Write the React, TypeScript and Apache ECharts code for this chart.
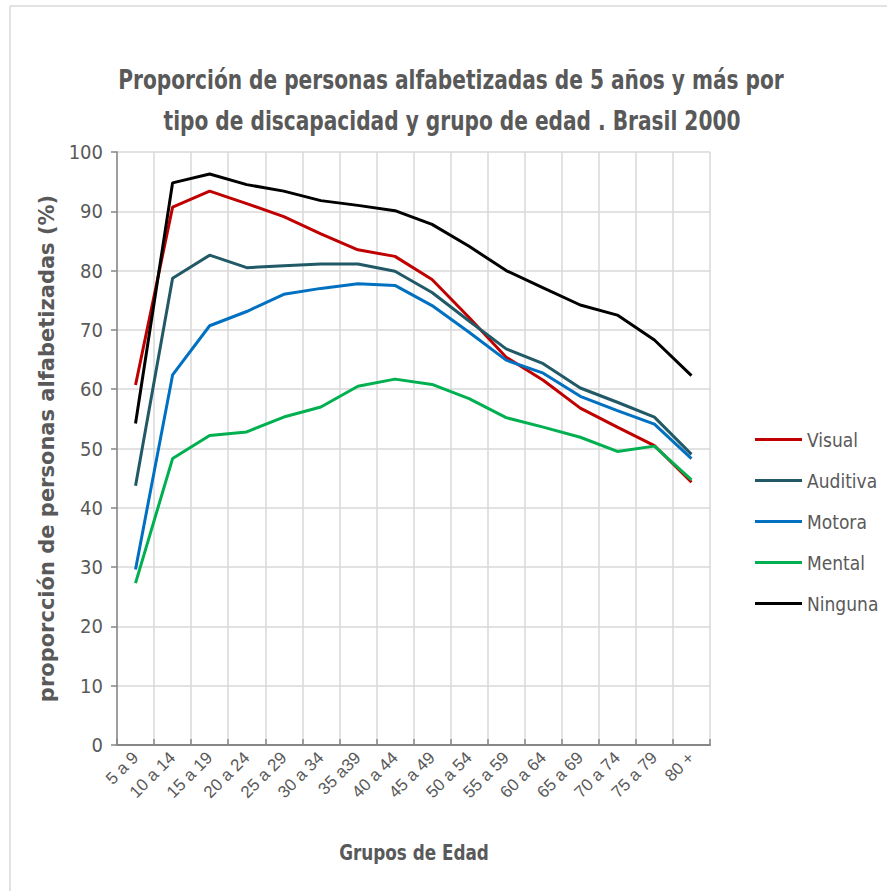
import React, { useEffect, useRef } from "react";
import * as echarts from "echarts";

const categories = ["5 a 9", "10 a 14", "15 a 19", "20 a 24", "25 a 29", "30 a 34", "35 a39", "40 a 44", "45 a 49", "50 a 54", "55 a 59", "60 a 64", "65 a 69", "70 a 74", "75 a 79", "80 +"];
const visual = [60.7, 90.7, 93.4, 91.3, 89.1, 86.2, 83.5, 82.4, 78.5, 72.1, 65.4, 61.5, 56.8, 53.6, 50.5, 44.3];
const auditiva = [43.7, 78.7, 82.6, 80.5, 80.8, 81.1, 81.1, 79.9, 76.3, 71.5, 66.8, 64.3, 60.2, 57.8, 55.3, 49.0];
const motora = [29.6, 62.4, 70.7, 73.1, 76.0, 77.0, 77.8, 77.5, 74.1, 69.6, 64.9, 62.7, 58.8, 56.4, 54.1, 48.3];
const mental = [27.3, 48.3, 52.2, 52.8, 55.3, 57.0, 60.5, 61.7, 60.8, 58.4, 55.2, 53.6, 51.9, 49.5, 50.4, 44.7];
const ninguna = [54.2, 94.8, 96.3, 94.5, 93.4, 91.8, 91.0, 90.1, 87.8, 84.1, 80.0, 77.1, 74.2, 72.5, 68.3, 62.3];
const seriesNames = ["Visual", "Auditiva", "Motora", "Mental", "Ninguna"];
const seriesColors = ["#C00000", "#215967", "#0070C0", "#00B050", "#000000"];
const titleLines = ["Proporción de personas alfabetizadas de 5 años y más por", "tipo de discapacidad y grupo de edad . Brasil 2000"];
const xAxisTitle = "Grupos de Edad";
const yAxisTitle = "proporcción de personas alfabetizadas (%)";

const NARROW = "'DejaVu Sans Condensed', sans-serif";
const GRAY = "#595959";

export default function App() {
  const ref = useRef<HTMLDivElement>(null);
  useEffect(() => {
    if (!ref.current) return;
    const chart = echarts.init(ref.current, undefined, { renderer: "svg" });
    const data = [visual, auditiva, motora, mental, ninguna];
    chart.setOption({
      animation: false,
      backgroundColor: "#ffffff",
      graphic: [
        { type: "line", shape: { x1: 10, y1: 6, x2: 887, y2: 6 }, style: { stroke: "#d9d9d9", lineWidth: 1.5 } },
        { type: "line", shape: { x1: 10, y1: 6, x2: 10, y2: 891 }, style: { stroke: "#d9d9d9", lineWidth: 1.5 } },
        {
          type: "text", x: 451, y: 80, scaleX: 0.83,
          style: { text: titleLines[0], align: "center", verticalAlign: "middle", fill: GRAY, font: `bold 27px ${NARROW}` },
        },
        {
          type: "text", x: 452, y: 121, scaleX: 0.83,
          style: { text: titleLines[1], align: "center", verticalAlign: "middle", fill: GRAY, font: `bold 27px ${NARROW}` },
        },
        {
          type: "text", x: 414, y: 852, scaleX: 0.85,
          style: { text: xAxisTitle, align: "center", verticalAlign: "middle", fill: GRAY, font: `bold 22px ${NARROW}` },
        },
      ],
      grid: { left: 117, right: 177, top: 152, bottom: 146, containLabel: false },
      legend: {
        orient: "vertical",
        left: 750,
        top: 425,
        itemWidth: 47,
        itemHeight: 3,
        itemGap: 22,
        icon: "rect",
        textStyle: { color: GRAY, fontSize: 19, fontFamily: NARROW, padding: [0, 0, 0, 0] },
        data: seriesNames,
      },
      xAxis: {
        type: "category",
        data: categories,
        boundaryGap: true,
        axisLine: { lineStyle: { color: "#868686", width: 2 } },
        axisTick: { show: true, inside: true, length: 6, lineStyle: { color: "#868686", width: 1.5 } },
        axisLabel: { rotate: 45, color: GRAY, fontSize: 17, fontFamily: "'Liberation Sans', Arial, sans-serif", margin: 10, interval: 0 },
        splitLine: { show: true, lineStyle: { color: "#d9d9d9", width: 1.5 } },
      },
      yAxis: {
        type: "value",
        min: 0,
        max: 100,
        interval: 10,
        name: yAxisTitle,
        nameLocation: "middle",
        nameRotate: 90,
        nameGap: 58,
        nameTextStyle: { color: GRAY, fontSize: 21, fontWeight: "bold", fontFamily: "'DejaVu Sans', sans-serif" },
        axisLine: { show: true, lineStyle: { color: "#868686", width: 1.5 } },
        axisTick: { show: true, inside: false, length: 6, lineStyle: { color: "#868686", width: 1.5 } },
        axisLabel: { color: GRAY, fontSize: 20, fontFamily: NARROW, margin: 14 },
        splitLine: { show: true, lineStyle: { color: "#d9d9d9", width: 1.5 } },
      },
      series: seriesNames.map((name, i) => ({
        name,
        type: "line",
        data: data[i],
        symbol: "none",
        color: seriesColors[i],
        lineStyle: { color: seriesColors[i], width: 3 },
      })),
    });
    return () => chart.dispose();
  }, []);
  return <div ref={ref} style={{ position: "absolute", left: 0, top: 0, width: 887, height: 891 }} />;
}
